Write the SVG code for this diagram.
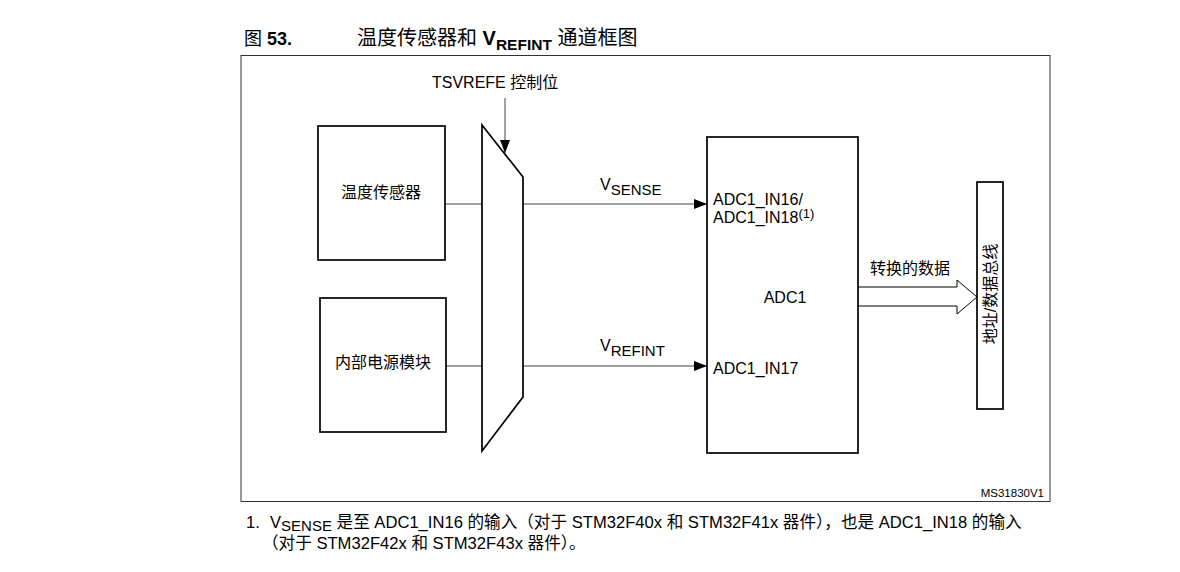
<svg xmlns="http://www.w3.org/2000/svg" width="1180" height="572" viewBox="0 0 1180 572">
<style>
text{font-family:"Liberation Sans","Noto Sans CJK SC",sans-serif;fill:#000}
.t{font-size:16px}
.box{fill:#fff;stroke:#000;stroke-width:1.7}
.ln{stroke:#444;stroke-width:1;fill:none}
</style>
<defs>
<marker id="ah" markerWidth="13" markerHeight="10" refX="13" refY="5" orient="auto" markerUnits="userSpaceOnUse">
<path d="M0,0 L13,5 L0,10 Z" fill="#000"/>
</marker>
</defs>
<rect width="1180" height="572" fill="#fff"/>
<g id="title">
<text x="244" y="45" font-size="18">图 <tspan font-weight="bold">53.</tspan></text>
<text x="357" y="45" font-size="20">温度传感器和 <tspan font-weight="bold">V<tspan font-size="15.5" dy="5">REFINT</tspan></tspan><tspan dy="-5"> 通道框图</tspan></text>
</g>
<rect id="frame" x="241" y="55.5" width="809" height="446" fill="none" stroke="#333" stroke-width="1"/>
<g id="connectors">
<line class="ln" x1="505" y1="98" x2="505" y2="153" marker-end="url(#ah)"/>
<line class="ln" x1="445" y1="204" x2="482" y2="204"/>
<line class="ln" x1="446" y1="366" x2="482" y2="366"/>
<line class="ln" x1="523" y1="204" x2="707" y2="204" marker-end="url(#ah)"/>
<line class="ln" x1="523" y1="366" x2="707" y2="366" marker-end="url(#ah)"/>
<path d="M858,287 L957,287 L957,280 L977,297 L957,314 L957,306 L858,306" fill="#fff" stroke="#000" stroke-width="1"/>
<text class="t" x="600" y="190">V<tspan font-size="15" dy="5">SENSE</tspan></text>
<text class="t" x="600" y="351">V<tspan font-size="15" dy="5">REFINT</tspan></text>
<text class="t" x="870" y="274">转换的数据</text>
</g>
<g id="tsvrefe"><text class="t" x="432" y="88">TSVREFE 控制位</text></g>
<g id="temp"><rect class="box" x="318" y="126" width="127" height="134"/><text class="t" x="381" y="198" text-anchor="middle">温度传感器</text></g>
<g id="vref"><rect class="box" x="320" y="298" width="126" height="134"/><text class="t" x="383" y="368" text-anchor="middle">内部电源模块</text></g>
<g id="mux"><path d="M482,125 L523,177 L523,397 L482,451 Z" class="box" stroke-width="2"/></g>
<g id="adc"><rect class="box" x="707" y="137" width="151" height="316" stroke-width="2"/>
<text class="t" x="785" y="303" text-anchor="middle">ADC1</text>
<text class="t" x="713" y="205">ADC1_IN16/</text>
<text class="t" x="713" y="223">ADC1_IN18<tspan font-size="13" dy="-5">(1)</tspan></text>
<text class="t" x="713" y="374">ADC1_IN17</text>
</g>
<g id="bus"><rect class="box" x="977" y="182" width="26" height="227"/>
<text class="t" transform="translate(996,294) rotate(-90)" text-anchor="middle">地址/数据总线</text></g>
<text x="1044" y="497" font-size="11.5" text-anchor="end">MS31830V1</text>
<g id="footnote" font-size="16.6">
<text x="246" y="528">1.</text>
<text x="270" y="528">V<tspan font-size="15" dy="3">SENSE</tspan><tspan dy="-3"> 是至 ADC1_IN16 的输入（对于 STM32F40x 和 STM32F41x 器件），也是 ADC1_IN18 的输入</tspan></text>
<text x="262" y="549">（对于 STM32F42x 和 STM32F43x 器件）。</text>
</g>
</svg>
